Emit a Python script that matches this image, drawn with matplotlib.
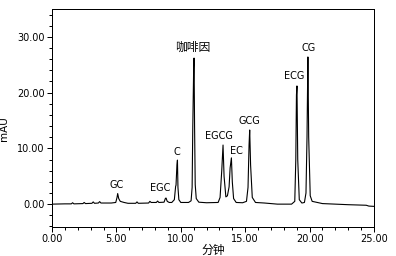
import matplotlib
matplotlib.use("Agg")
import matplotlib.pyplot as plt
from matplotlib.ticker import MultipleLocator, FormatStrFormatter

plt.rcParams['font.family'] = ['DejaVu Sans', 'Noto Sans CJK SC']

# chromatogram trace (minutes, mAU)
time_min = [0.0, 1.0, 1.5, 1.6, 1.7, 2.4, 2.5, 2.6, 3.1, 3.2, 3.3, 3.6, 3.7, 3.8,
            4.6, 4.95, 5.05, 5.1, 5.18, 5.3, 5.45, 5.6, 5.9, 6.5, 6.6, 6.7, 7.5,
            7.6, 7.7, 8.1, 8.2, 8.3, 8.7, 8.8, 8.85, 8.95, 9.1, 9.3, 9.5, 9.6,
            9.63, 9.7, 9.74, 9.78, 9.85, 10.0, 10.6, 10.8, 10.88, 10.93, 11.0,
            11.03, 11.07, 11.12, 11.2, 11.4, 12.0, 12.9, 13.05, 13.18, 13.28,
            13.36, 13.5, 13.62, 13.75, 13.83, 13.93, 14.0, 14.1, 14.3, 14.8,
            15.1, 15.22, 15.3, 15.35, 15.42, 15.55, 15.8, 16.5, 17.5, 18.6,
            18.85, 18.93, 18.98, 19.02, 19.08, 19.2, 19.4, 19.6, 19.72, 19.8,
            19.85, 19.87, 19.93, 20.05, 20.2, 20.6, 21.0, 22.0, 23.0, 24.4,
            24.6, 25.0]
signal_mau = [0.0, 0.05, 0.05, 0.25, 0.05, 0.1, 0.3, 0.1, 0.15, 0.4, 0.15, 0.2, 0.45, 0.2,
              0.2, 0.3, 1.2, 1.9, 1.0, 0.5, 0.4, 0.3, 0.15, 0.15, 0.4, 0.15, 0.2,
              0.5, 0.3, 0.3, 0.55, 0.3, 0.35, 1.0, 1.1, 0.5, 0.3, 0.3, 0.8, 3.2,
              3.4, 7.0, 7.9, 3.0, 0.8, 0.3, 0.3, 0.6, 3.0, 13.6, 24.4, 26.2, 14.0,
              3.5, 1.0, 0.35, 0.25, 0.3, 1.2, 6.0, 10.6, 5.0, 1.3, 1.5, 3.1, 6.5,
              8.3, 4.0, 1.0, 0.3, 0.25, 0.5, 3.0, 10.6, 13.3, 7.0, 1.2, 0.3, 0.2,
              0.0, 0.0, 0.5, 8.0, 19.6, 21.2, 8.0, 0.8, 0.2, 0.3, 2.0, 12.0, 22.6,
              26.4, 12.0, 1.5, 0.5, 0.3, 0.1, 0.0, -0.1, -0.2, -0.35, -0.4]

peak_names = ['GC', 'EGC', 'C', '咖啡因', 'EGCG', 'EC', 'GCG', 'ECG', 'CG']
label_x = [5.05, 8.4, 9.7, 10.95, 12.97, 14.3, 15.35, 18.8, 19.95]
label_y = [3.4, 2.9, 9.3, 28.2, 12.2, 9.5, 14.9, 23.0, 28.0]
label_size = [7, 7, 7, 8.5, 7, 7, 7, 7, 7]

fig = plt.figure(figsize=(3.96, 2.56), dpi=100)
ax = fig.add_axes([0.1313, 0.1133, 0.8131, 0.8515])
ax.plot(time_min, signal_mau, color='black', linewidth=0.8)

for name, x, y, fs in zip(peak_names, label_x, label_y, label_size):
    ax.text(x, y, name, ha='center', va='center', fontsize=fs)

ax.set_xlim(0, 25)
ax.set_ylim(-4.1, 35)
ax.xaxis.set_major_locator(MultipleLocator(5))
ax.xaxis.set_minor_locator(MultipleLocator(1))
ax.yaxis.set_major_locator(MultipleLocator(10))
ax.yaxis.set_minor_locator(MultipleLocator(2))
ax.xaxis.set_major_formatter(FormatStrFormatter('%.2f'))
ax.yaxis.set_major_formatter(FormatStrFormatter('%.2f'))
ax.tick_params(which='major', direction='out', length=3.6, width=0.72,
               labelsize=7, pad=1.5)
ax.tick_params(which='minor', direction='out', length=2.2, width=0.72)
for s in ax.spines.values():
    s.set_linewidth(0.72)

ax.set_xlabel('分钟', fontsize=8.5, labelpad=0)
ax.set_ylabel('mAU', fontsize=7.5)
ax.yaxis.set_label_coords(-0.135, 0.45)

fig.savefig('out.png', dpi=100)
